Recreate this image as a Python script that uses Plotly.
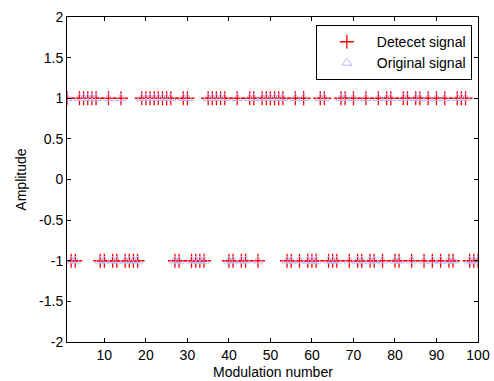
import plotly.graph_objects as go

# Modulation numbers whose symbol is +1 (all others are -1)
positive_idx = [1, 4, 5, 6, 7, 8, 11, 14, 19, 20, 21, 22, 23, 24, 25, 26, 29, 30,
                35, 36, 37, 38, 39, 42, 45, 46, 48, 49, 50, 51, 52, 53, 56, 58, 62, 63,
                67, 68, 70, 73, 76, 78, 79, 82, 83, 85, 86, 88, 90, 92, 95, 96, 97]
modulation_number = list(range(1, 101))
original_signal = [1 if k in positive_idx else -1 for k in modulation_number]
detected_signal = list(original_signal)

x_ticks = [10, 20, 30, 40, 50, 60, 70, 80, 90, 100]
y_ticks = [-2, -1.5, -1, -0.5, 0, 0.5, 1, 1.5, 2]
y_tick_text = ["-2", "-1.5", "-1", "-0.5", "0", "0.5", "1", "1.5", "2"]

FAMILY = "Liberation Sans, Arial, sans-serif"
font = dict(family=FAMILY, size=14, color="black")

fig = go.Figure()
fig.add_trace(go.Scatter(
    x=modulation_number, y=detected_signal, mode="markers", name="Detecet signal",
    marker=dict(symbol="cross-thin", size=10, line=dict(color="red", width=1.3), color="red"),
))
fig.add_trace(go.Scatter(
    x=modulation_number, y=original_signal, mode="markers", name="Original signal",
    marker=dict(symbol="triangle-up-open", size=9, color="rgb(185,185,255)",
                line=dict(color="rgb(185,185,255)", width=1)),
))

axis_common = dict(showline=True, linecolor="black", linewidth=1, mirror="ticks",
                   ticks="inside", ticklen=4, tickcolor="black", showgrid=False,
                   zeroline=False, tickfont=font, automargin=False)

fig.update_layout(
    width=494, height=381,
    margin=dict(l=67, r=16, t=17, b=39),
    paper_bgcolor="white", plot_bgcolor="white",
    font=font,
    showlegend=True,
    legend=dict(x=0.985, y=0.975, xanchor="right", yanchor="top",
                bordercolor="black", borderwidth=1, bgcolor="white",
                itemwidth=50, tracegroupgap=0,
                font=dict(family=FAMILY, size=14)),
    xaxis=dict(range=[1, 100], tickvals=x_ticks, **axis_common),
    yaxis=dict(range=[-2, 2], tickvals=y_ticks, ticktext=y_tick_text, **axis_common),
    annotations=[
        dict(text="Modulation number", xref="paper", yref="paper", x=0.5, y=-0.092,
             xanchor="center", yanchor="middle", showarrow=False, font=font),
        dict(text="Amplitude", xref="paper", yref="paper", x=-0.114, y=0.5,
             xanchor="center", yanchor="middle", textangle=-90, showarrow=False, font=font),
    ],
)

fig.write_html("out.html")
